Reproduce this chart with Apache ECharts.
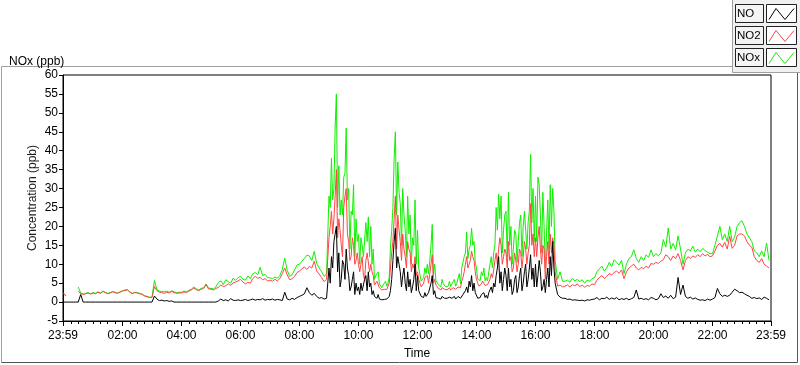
<!DOCTYPE html>
<html><head><meta charset="utf-8">
<script src="https://cdn.jsdelivr.net/npm/echarts@6/dist/echarts.min.js"></script>
<style>html,body{margin:0;padding:0;background:#fff}#c{width:800px;height:365px}</style>
</head><body><div id="c"></div>
<script>
// main samples every 5 minutes starting 00:00, one line per hour
const stepMinutes = 5;
const NO = [
0,0,0,0,0,0,0,2.0,0,0,0,0,
0,0,0,0,0,0,0,0,0,0,0,0,
0,0,0,0,0,0,0,0,0,0,0,0,
0,1.6,0.8,0.4,0.5,0.3,0.4,0.2,0.3,0,0,0,
0,0,0,0,0,0,0,0,0,0,0,0,
0,0,0,0.3,0.8,0.4,0.6,0.3,0.9,0.5,0.4,0.6,
0.4,0.5,0.7,0.4,0.6,0.8,0.5,0.7,0.6,0.9,0.5,0.7,
0.6,0.8,0.5,0.7,0.6,0.4,2.6,0.8,0.6,1.0,0.7,1.2,
1.5,1.8,2.2,3.8,2.5,1.8,2.3,1.5,1.0,1.2,0.8,1.0,
9,12,16,20,13,6,10,14,7,4,8,5,
4,5,2.5,7,8,5,3,1.5,2,1,0.8,1,
1,3,11,19.5,12,8,7,5,8,6,4,10,
7,2.5,2,2.5,2,3,7,3,1.5,1.2,1.5,1,
1,1.3,1,1.5,1,1.4,1.5,2.5,4,5.5,7,5,
2,1.5,2,2.5,1.8,2.5,4,5,7,12,8,6,
7,9,6,3,7,4,9,5,10,6,12.5,9,
10,7,8,4,2.5,9,12,16,5,2,1.3,1,
1.0,0.7,0.8,0.5,0.6,0.5,0.4,0.5,0.3,0.6,0.5,0.7,
0.8,1.2,0.6,1.0,0.9,1.3,0.7,1.1,0.8,1.2,0.6,0.9,
0.7,1.0,0.6,0.9,1.2,3.2,0.8,1.0,0.7,0.9,0.6,1.2,
1.0,0.6,0.9,2.2,1.2,1.6,1.0,1.8,0.9,1.3,6.5,2.0,
4.5,1.5,1.0,1.3,0.8,1.1,0.7,0.5,0.6,0.4,0.8,0.5,
0.8,1.2,3.6,2.2,1.5,1.8,1.5,1.8,2.6,3.4,3.0,2.5,
2.6,2.2,1.8,1.5,1.0,1.2,0.9,1.1,0.7,1.3,1.0,0.6
];
const NO2 = [
2.2,1.6,null,null,null,null,2.8,2.3,2.0,2.2,2.4,2.1,
2.4,2.2,2.6,2.3,2.8,2.5,2.2,2.4,2.7,2.5,2.3,2.6,
2.9,3.1,3.2,2.6,2.2,2.5,2.4,2.2,2.0,1.6,1.4,1.2,
1.2,4.1,3.0,2.6,2.5,2.3,2.6,2.4,2.8,2.5,2.3,2.4,
2.4,2.7,2.5,2.9,3.2,3.7,3.3,3.0,3.4,3.6,4.6,3.5,
3.4,3.2,3.6,3.9,4.5,4.1,4.3,4.8,4.4,5.0,5.3,5.6,
6.0,5.3,4.8,5.2,5.0,6.2,6.8,6.3,6.5,5.9,6.2,5.6,
5.8,5.5,6.0,5.6,6.2,7.5,9.0,7.2,5.9,6.2,6.8,7.8,
8.2,8.8,9.3,8.6,9.4,9.0,10.8,8.2,7.4,6.5,5.4,6.0,
17,24,22,35,22,15,25,30,16,12,15,11,
10,10,7,11,12.5,10,7,4.5,5,3.5,3,3.5,
3.5,9,16,28,23,16,18,12,16,13,10,12,
8,5.5,3.8,6.5,7,7.5,12.5,6,4,3.5,3.8,3.4,
3.2,3.8,3.4,3.6,3.2,4.5,5.5,8,12,10,13.5,11,
6,4.2,4.8,5,4.3,5,7.5,8.5,13,14,15,12,
13,16,12,9,11,10,13,12,14,13,26,18,
17,17,14,15,6,16,18,17,8,4.2,4.5,4,
4.2,4.5,4.0,4.6,4.3,4.8,4.1,4.5,3.9,4.4,4.2,4.8,
4.6,5.8,6.5,7.0,6.2,6.8,7.5,7.2,7.8,8.2,7.6,8.5,
6.2,8.0,9.0,9.5,10.0,9.0,8.5,9.2,8.8,9.5,9.0,10.2,
10.0,10.5,10.2,10.8,11.2,12.5,12.0,11.0,12.2,11.5,12.8,11.0,
8.5,11.0,12.0,11.5,12.2,11.8,12.5,12.0,12.8,12.2,12.6,12.0,
12.2,13.5,15.0,15.5,14.5,15.8,14.0,17.4,14.2,15.0,17.5,18.0,
18.0,17.5,16.0,15.0,14.5,12.0,11.0,10.5,11.5,10.0,9.5,9.0
];
const NOX = [
2.3,1.7,null,null,null,null,4.0,2.4,2.1,2.3,2.5,2.2,
2.5,2.3,2.7,2.4,2.9,2.6,2.3,2.5,2.8,2.6,2.4,2.7,
3.0,3.2,3.3,2.7,2.3,2.6,2.5,2.3,2.1,1.7,1.5,1.3,
1.3,5.7,3.3,2.9,2.8,2.7,2.9,2.6,3.0,2.7,2.5,2.6,
2.6,2.9,2.7,3.1,3.4,4.0,3.5,3.2,3.6,3.8,4.8,3.7,
3.6,3.5,4.0,5.2,5.6,4.6,5.9,5.4,5.0,6.3,5.8,6.4,
6.8,6.0,5.8,6.9,6.2,7.5,7.8,7.2,9.2,7.0,7.3,6.5,
6.4,6.2,6.6,6.3,7.0,8.6,11.6,8.4,6.8,7.2,8.5,9.8,
10.0,10.8,11.5,12.4,12.2,11.0,13.4,10.2,9.0,8.0,6.8,7.4,
28,38,30,55,36,27,33,46,30,24,31,22,
18,17,12,21,22.5,20,14,7,8,5,4.5,5.5,
5,14.5,25,45,37,26,30,19,28,23,17,27,
19,9,6,9,10,11,20.5,10,6,5,6,5,
4.5,5.5,4.8,6,5,7.5,9,12,18.5,14,19.5,16,
9,6,8,9,6.5,8,12,13,25,28.5,28,19,
24,29,20,14,18,16,23,20,24,21,39,30,
28,33,23,29,9,27,31,30,11,6,8,5.5,
5.5,5.8,5.2,6.3,5.6,6.0,5.4,5.9,5.0,5.8,5.5,6.2,
6.4,8.0,8.8,9.5,8.2,9.0,10.5,9.4,11.2,10.5,9.8,11.0,
7.5,10.0,11.5,12.0,13.8,11.5,10.5,12.0,11.0,12.5,11.8,13.8,
12.0,12.8,12.2,13.0,16.5,14.5,19.6,14.0,15.5,13.8,17.5,14.0,
10.0,13.0,14.0,13.5,14.8,13.2,14.0,13.3,14.2,13.6,13.2,12.8,
12.8,15.0,17.5,20.0,16.5,18.0,16.0,20.0,16.0,17.2,20.0,21.0,
21.5,20.0,18.0,17.0,16.0,13.5,13.0,12.0,13.5,12.0,15.6,11.0
];
// extra in-between samples for the busy period, at 09:02.5, 09:07.5, ... 16:37.5
const midStartMinute = 542.5;
const NO_mid = [
5,9,18,8,4,11,6,9,3,6,2,3,
2,3,6,3,4,2,1.5,1,0.8,0.6,0.7,0.8,
1.5,6,16,9,10,4,9,3,4,2.5,6,3,
3,1.5,1.2,1.5,2.5,5,2,1.2,1,0.8,1.2,0.8,
0.8,0.9,1.2,0.8,1.5,1,2,3,2.5,4,3,2.5,
1,1.2,1.5,1.2,1,2,2.5,4,9,5,3,9,
3,4,2,6,2.5,7,3,8,4,9,6,4,
4,11,3,6,6,4,7,9
];
const NO2_mid = [
20,18,28,17,19,12,28,18,11,17,10,13,
8,12,6,13,8,8,4.5,5.5,3.8,3.2,3.4,3.3,
5,13,22,14,19,11,14,9,14,8,9,7,
6,4,5,6,5,10,5,4.5,3.6,3.2,3.6,3.3,
3.4,3.2,3.8,3.4,4,3.8,6.5,10,9,11,12,8,
5,4.5,5.5,4.4,4.6,6,6.5,11,10,17,10,14,
9,11,8,13,8,14,9,16,10,15,15,12,
12,20,10,14,12,10,13,15
];
const NOX_mid = [
25,27,46,25,23,23,34,27,14,23,12,16,
10,15,12,16,12,10,6,6.5,4.8,3.8,4,4.2,
6.5,19,38,23,29,15,23,12,18,10,15,10,
9,5.5,6.5,7.5,7.5,15,7,5.7,4.6,4,4.8,4,
4.2,4.1,5,4.2,5.5,4.8,8.5,13,11.5,15,15,10.5,
6,5.7,7,5.6,5.6,8,9,15,19,22,13,23,
12,15,10,19,10.5,21,12,24,14,24,21,16,
16,31,13,20,18,14,20,24
];
// x axis: minutes since midnight; axis spans 23:59 (previous day) to 23:59
const xMajorTicks = [-1,120,240,360,480,600,720,840,960,1080,1200,1320,1439];
const xMinorTicks = [];
for (let m = 15; m < 1439; m += 15) if (m % 120 !== 0) xMinorTicks.push(m);
const seriesNames = ['NO','NO2','NOx'];
const seriesColors = {NO:'#000000', NO2:'#ff4444', NOx:'#10f000'};

function pad(n){return (n<10?'0':'')+n;}
function fmtTime(v){ if (v < 0) return '23:59'; return pad(Math.floor(v/60))+':'+pad(v%60); }
function merged(main, mid){
  const pts = main.map((v,i)=>[i*stepMinutes, v]);
  mid.forEach((v,i)=>pts.push([midStartMinute + i*stepMinutes, v]));
  pts.sort((a,b)=>a[0]-b[0]);
  return pts;
}

const FONT = '"Liberation Sans",Arial,sans-serif';
const chart = echarts.init(document.getElementById('c'), null, {renderer:'canvas'});

const legendEls = [];
legendEls.push({type:'rect', shape:{x:732.5,y:-1,width:70,height:73.5}, style:{fill:'#f0f0f0', stroke:'#a0a0a0', lineWidth:1}, z:1});
seriesNames.forEach((nm,i)=>{
  const y0 = 4.5 + 22*i;
  legendEls.push({type:'rect', shape:{x:735.5,y:y0,width:28,height:18}, style:{fill:'#f4f4f4', stroke:'#222', lineWidth:1}, z:2});
  legendEls.push({type:'text', x:737, y:y0+9.5, style:{text:nm, fill:'#000', font:'11.5px '+FONT, verticalAlign:'middle', align:'left'}, z:3});
  legendEls.push({type:'rect', shape:{x:766.5,y:y0,width:30,height:18}, style:{fill:'#ffffff', stroke:'#222', lineWidth:1}, z:2});
  legendEls.push({type:'polyline', shape:{points:[[769,y0+15],[776,y0+4],[785,y0+15],[794,y0+4]]}, style:{stroke:seriesColors[nm], lineWidth:1, fill:null}, z:3});
});

const option = {
  animation:false,
  backgroundColor:'#ffffff',
  title:{text:'NOx (ppb)', left:4, top:51, textStyle:{fontSize:12, fontWeight:'normal', color:'#000', fontFamily:FONT}},
  grid:{left:63, right:29, top:75, bottom:44, show:true, borderColor:'#000', borderWidth:1, backgroundColor:'#fff', containLabel:false, outerBoundsMode:'none'},
  xAxis:[{
    type:'value', min:-1, max:1439, position:'bottom',
    name:'Time', nameLocation:'middle', nameGap:27, nameMoveOverlap:false,
    nameTextStyle:{fontSize:12, color:'#000', fontFamily:FONT},
    axisLine:{show:true, onZero:false, lineStyle:{color:'#000', width:1}},
    axisTick:{show:true, customValues:xMajorTicks, length:5, inside:false, lineStyle:{color:'#000'}},
    axisLabel:{show:true, customValues:xMajorTicks, formatter:fmtTime, fontSize:12, color:'#000', fontFamily:FONT, margin:9},
    splitLine:{show:false}
  },{
    type:'value', min:-1, max:1439, position:'bottom', gridIndex:0,
    axisLine:{show:false, onZero:false},
    axisTick:{show:true, customValues:xMinorTicks, length:3, inside:false, lineStyle:{color:'#000'}},
    axisLabel:{show:false},
    splitLine:{show:false}
  }],
  yAxis:{
    type:'value', min:-5, max:60, interval:5,
    name:'Concentration (ppb)', nameLocation:'middle', nameGap:24, nameMoveOverlap:false,
    nameTextStyle:{fontSize:12, color:'#1a1a1a', fontFamily:FONT},
    axisLine:{show:true, onZero:false, lineStyle:{color:'#000'}},
    axisTick:{show:true, length:4, lineStyle:{color:'#000'}},
    axisLabel:{fontSize:12, color:'#000', fontFamily:FONT, margin:5},
    splitLine:{show:false}
  },
  series:[
    {name:'NOx', type:'line', data:merged(NOX, NOX_mid), showSymbol:false, connectNulls:false, lineStyle:{color:seriesColors.NOx, width:1}, itemStyle:{color:seriesColors.NOx}},
    {name:'NO2', type:'line', data:merged(NO2, NO2_mid), showSymbol:false, connectNulls:false, lineStyle:{color:seriesColors.NO2, width:1}, itemStyle:{color:seriesColors.NO2}},
    {name:'NO', type:'line', data:merged(NO, NO_mid), showSymbol:false, connectNulls:false, lineStyle:{color:seriesColors.NO, width:1}, itemStyle:{color:seriesColors.NO}}
  ],
  graphic:[
    {type:'line', shape:{x1:1.5,y1:66.5,x2:732,y2:66.5}, style:{stroke:'#a0a0a0', lineWidth:1}},
    {type:'line', shape:{x1:1.5,y1:66.5,x2:1.5,y2:362.5}, style:{stroke:'#a0a0a0', lineWidth:1}},
    {type:'line', shape:{x1:1.5,y1:362.5,x2:797.5,y2:362.5}, style:{stroke:'#555', lineWidth:1}},
    {type:'line', shape:{x1:797.5,y1:72,x2:797.5,y2:362.5}, style:{stroke:'#555', lineWidth:1}}
  ].concat(legendEls)
};
chart.setOption(option);
</script></body></html>
